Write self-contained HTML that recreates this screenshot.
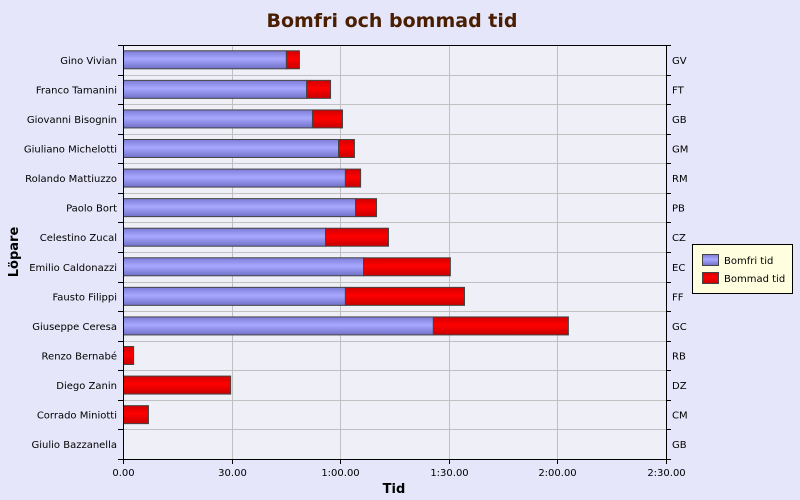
<!DOCTYPE html>
<html><head><meta charset="utf-8">
<style>
html,body{margin:0;padding:0;background:#e6e6fa;}
svg{display:block;font-family:"DejaVu Sans","Liberation Sans",sans-serif;}
</style></head>
<body>
<svg id="chart" width="800" height="500" viewBox="0 0 800 500" xmlns="http://www.w3.org/2000/svg">
<defs>
<linearGradient id="gb" x1="0" y1="0" x2="0" y2="1">
<stop offset="0" stop-color="#7c7cd8"/><stop offset="0.45" stop-color="#a8a8ff"/><stop offset="1" stop-color="#7070c8"/>
</linearGradient>
<linearGradient id="gr" x1="0" y1="0" x2="0" y2="1">
<stop offset="0" stop-color="#d00000"/><stop offset="0.45" stop-color="#ff0000"/><stop offset="1" stop-color="#c80000"/>
</linearGradient>
</defs>
<rect x="0" y="0" width="800" height="500" fill="#e6e6fa"/>
<text x="392" y="27" text-anchor="middle" font-size="19" font-weight="bold" fill="#4a1e00">Bomfri och bommad tid</text>
<rect x="123" y="45" width="543" height="414" fill="#efeff8"/>
<g id="grid"></g>
<g id="bars"></g>
<g id="axes"></g>
<text x="394" y="493" text-anchor="middle" font-size="13" font-weight="bold" fill="#000">Tid</text>
<text x="18" y="252" text-anchor="middle" font-size="13" font-weight="bold" fill="#000" transform="rotate(-90 18 252)">Löpare</text>
<g>
<rect x="692.5" y="244.5" width="100" height="49" fill="#ffffe0" stroke="#000"/>
<rect x="702.5" y="254.5" width="16" height="11" fill="url(#gb)" stroke="#444"/>
<text x="724" y="264" font-size="10" fill="#000">Bomfri tid</text>
<rect x="702.5" y="272.5" width="16" height="11" fill="url(#gr)" stroke="#444"/>
<text x="724" y="282" font-size="10" fill="#000">Bommad tid</text>
</g>
</svg>
<script>
const names = ["Gino Vivian","Franco Tamanini","Giovanni Bisognin","Giuliano Michelotti","Rolando Mattiuzzo","Paolo Bort","Celestino Zucal","Emilio Caldonazzi","Fausto Filippi","Giuseppe Ceresa","Renzo Bernabé","Diego Zanin","Corrado Miniotti","Giulio Bazzanella"];
const initials = ["GV","FT","GB","GM","RM","PB","CZ","EC","FF","GC","RB","DZ","CM","GB"];
const bomfri = [45.0,50.6,52.2,59.4,61.3,64.1,55.8,66.3,61.3,85.6,0,0,0,0];
const bommad = [3.6,6.6,8.3,4.4,4.2,5.8,17.4,24.0,32.9,37.3,2.8,29.6,6.9,0];
const xTicks = [0,30,60,90,120,150];
const xTickLabels = ["0.00","30.00","1:00.00","1:30.00","2:00.00","2:30.00"];

const NS="http://www.w3.org/2000/svg";
const L=123,R=666,T=45,B=459,XMAX=150;
const rowH=(B-T)/names.length;
function xs(v){return L+v/XMAX*(R-L);}
function yRow(i){return T+i*rowH;}
function mk(tag,attrs,parent){const e=document.createElementNS(NS,tag);for(const k in attrs)e.setAttribute(k,attrs[k]);parent.appendChild(e);return e;}
const grid=document.getElementById('grid'),bars=document.getElementById('bars'),axes=document.getElementById('axes');

xTicks.forEach((t,i)=>{
  const x=Math.round(xs(t))+0.5;
  if(i>0&&i<xTicks.length-1){
    const g=mk('line',{x1:x,x2:x,y1:T,y2:B,stroke:'#c0c0c0'},grid);
    
    
  }
  const tk=mk('line',{x1:x,x2:x,y1:B,y2:B+5,stroke:'#000'},axes);
  
  
  const lb=mk('text',{x:x,y:B+17,'text-anchor':'middle','font-size':'10',fill:'#000'},axes);
  lb.textContent=xTickLabels[i];
  
  
});
for(let i=1;i<names.length;i++){
  const y=Math.round(yRow(i))+0.5;
  const g=mk('line',{x1:L,x2:R,y1:y,y2:y,stroke:'#c0c0c0'},grid);
  
  
}
names.forEach((n,i)=>{
  const yc=yRow(i)+rowH/2, bh=18, y0=yc-bh/2;
  if(bomfri[i]>0){
    const b=mk('rect',{x:L+0.5,y:y0,width:xs(bomfri[i])-L,height:bh,fill:'url(#gb)',stroke:'#444'},bars);
    
    
  }
  if(bommad[i]>0){
    const r=mk('rect',{x:xs(bomfri[i])+0.5,y:y0,width:xs(bomfri[i]+bommad[i])-xs(bomfri[i]),height:bh,fill:'url(#gr)',stroke:'#444'},bars);
    
    
  }
  const l=mk('text',{x:L-6,y:yc+4,'text-anchor':'end','font-size':'10',fill:'#000'},axes);
  l.textContent=n;
  
  
  const r2=mk('text',{x:R+2+4,y:yc+4,'font-size':'10',fill:'#000'},axes);
  r2.textContent=initials[i];
  
  
});
for(let i=0;i<=names.length;i++){
  const y=Math.round(yRow(i))+0.5;
  const a=mk('line',{x1:L-5,x2:L,y1:y,y2:y,stroke:'#000'},axes);
  
  
  const b=mk('line',{x1:R,x2:R+5,y1:y,y2:y,stroke:'#000'},axes);
  
  
}
const ax=[[L+0.5,T,L+0.5,B+0.5,'y-axis-line'],[R+0.5,T,R+0.5,B+0.5,'right-axis-line'],[L,B+0.5,R+1,B+0.5,'x-axis-line'],[L,T+0.5,R+1,T+0.5,'top-axis-line']];
ax.forEach(a=>{
  const e=mk('line',{x1:a[0],y1:a[1],x2:a[2],y2:a[3],stroke:'#000'},axes);
  
  
});
</script>
</body></html>
